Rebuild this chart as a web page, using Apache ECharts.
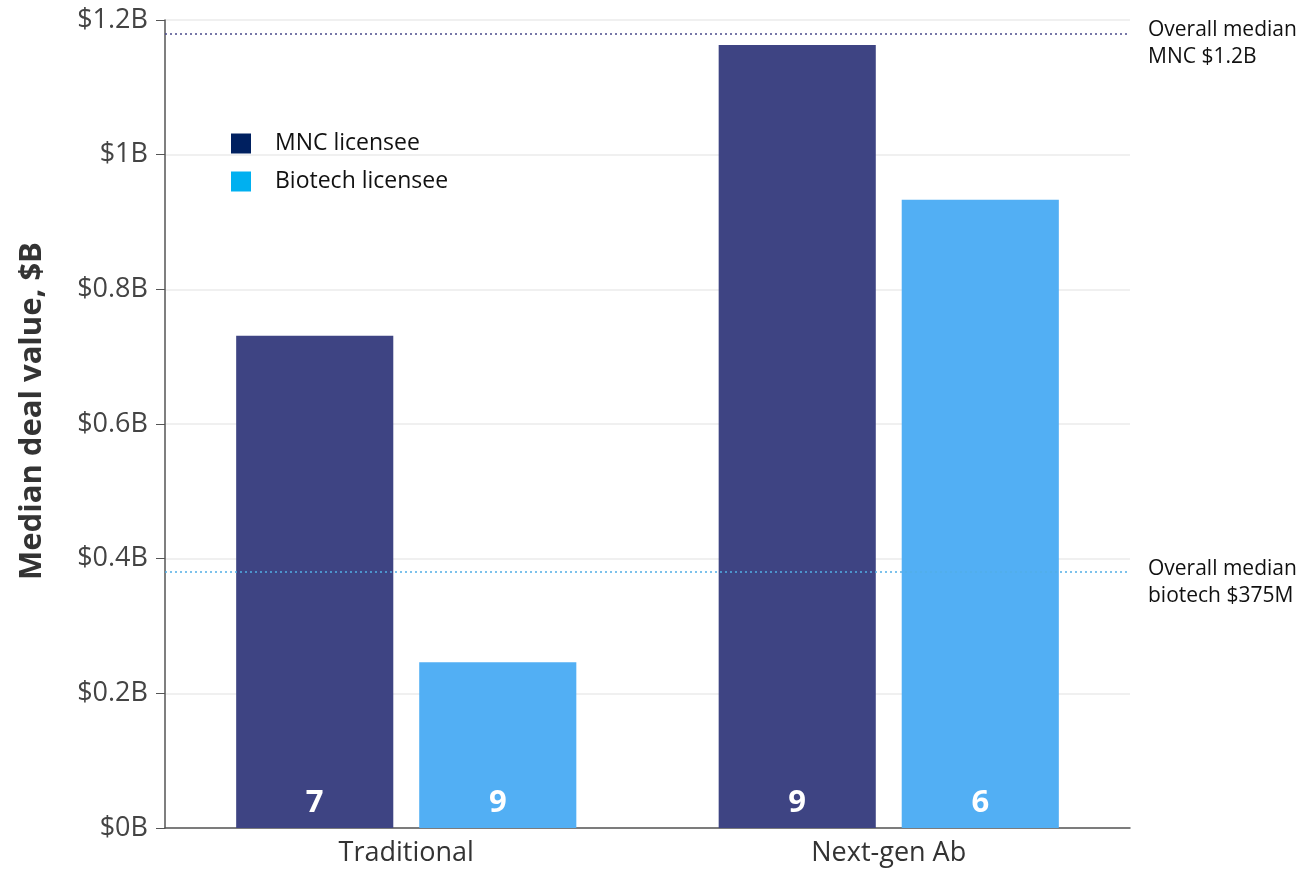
<!DOCTYPE html>
<html>
<head>
<meta charset="utf-8">
<script src="https://cdn.jsdelivr.net/npm/echarts@6/dist/echarts.min.js"></script>
<style>
  html, body { margin: 0; padding: 0; background: #fff; }
  #chart { width: 1315px; height: 869px; }
</style>
</head>
<body>
<div id="chart"></div>
<script>
// Median deal value by modality and licensee type
const categories = ['Traditional', 'Next-gen Ab'];
const mncValues = [0.731, 1.163];
const biotechValues = [0.246, 0.933];
const mncDealCounts = [7, 9];
const biotechDealCounts = [9, 6];
const overallMedianMnc = 1.18;
const overallMedianBiotech = 0.375;
const medianMncLabel = ['Overall median', 'MNC $1.2B'];
const medianBiotechLabel = ['Overall median', 'biotech $375M'];

const FONT = '"Open Sans", Lato, sans-serif';

function tickLabel(v) {
  const r = Math.round(v * 10) / 10;
  return '$' + (Number.isInteger(r) ? r.toFixed(0) : r.toFixed(1)) + 'B';
}

// Two-line note to the right of a median line, nudged slightly below it
function medianNote(lines) {
  return '{gap|}\n' + lines.map(l => '{t|' + l + '}').join('\n');
}

const chart = echarts.init(document.getElementById('chart'));

const medianLabelStyle = {
  show: true,
  position: 'end',
  distance: 18,
  align: 'left',
  rich: {
    gap: { lineHeight: 20, fontSize: 1 },
    t: { color: '#111', fontFamily: FONT, fontSize: 21, lineHeight: 27 }
  }
};

const countLabel = counts => ({
  show: true,
  position: 'insideBottom',
  distance: 9,
  color: '#fff',
  fontFamily: FONT,
  fontWeight: 'bold',
  fontSize: 31,
  formatter: p => String(counts[p.dataIndex])
});

chart.setOption({
  animation: false,
  grid: { left: 165, right: 185, top: 20, bottom: 41, containLabel: false },
  legend: {
    orient: 'vertical',
    left: 231,
    top: 132,
    padding: 0,
    itemWidth: 20,
    itemHeight: 20,
    itemGap: 15,
    icon: 'rect',
    textStyle: { fontFamily: FONT, fontSize: 23, color: '#111', padding: [2, 0, 0, 19] },
    data: [
      { name: 'MNC licensee', itemStyle: { color: '#002060' } },
      { name: 'Biotech licensee', itemStyle: { color: '#00b0f0' } }
    ]
  },
  xAxis: {
    type: 'category',
    data: categories,
    axisLine: { lineStyle: { color: '#555', width: 1.5 } },
    axisTick: { alignWithLabel: true, length: 8, lineStyle: { color: '#555' } },
    axisLabel: { fontFamily: FONT, fontSize: 27, color: '#333', margin: 12 }
  },
  yAxis: {
    type: 'value',
    min: 0,
    max: 1.2,
    interval: 0.2,
    name: 'Median deal value, $B',
    nameLocation: 'middle',
    nameGap: 117,
    nameTextStyle: { fontFamily: FONT, fontSize: 31, fontWeight: 'bold', color: '#333', padding: [0, 0, 0, 26] },
    axisLine: { show: true, lineStyle: { color: '#555', width: 1.5 } },
    axisTick: { show: true, length: 9, lineStyle: { color: '#555' } },
    axisLabel: { fontFamily: FONT, fontSize: 27, color: '#444', margin: 17, formatter: tickLabel },
    splitLine: { lineStyle: { color: '#ebebeb', width: 1.5 } }
  },
  series: [
    {
      name: 'MNC licensee',
      type: 'bar',
      data: mncValues,
      barGap: '16.5%',
      barCategoryGap: '29.5%',
      itemStyle: { color: '#3e4483' },
      label: countLabel(mncDealCounts),
      markLine: {
        silent: true,
        symbol: 'none',
        lineStyle: { color: '#4b4b8c', type: [2, 3], width: 1.5 },
        label: Object.assign({}, medianLabelStyle, { formatter: medianNote(medianMncLabel) }),
        data: [{ yAxis: overallMedianMnc }]
      }
    },
    {
      name: 'Biotech licensee',
      type: 'bar',
      data: biotechValues,
      itemStyle: { color: '#52aff4' },
      label: countLabel(biotechDealCounts),
      markLine: {
        silent: true,
        symbol: 'none',
        lineStyle: { color: '#52aee6', type: [2, 3], width: 1.5 },
        label: Object.assign({}, medianLabelStyle, { formatter: medianNote(medianBiotechLabel) }),
        data: [{ yAxis: overallMedianBiotech }]
      }
    }
  ]
});
</script>
</body>
</html>
